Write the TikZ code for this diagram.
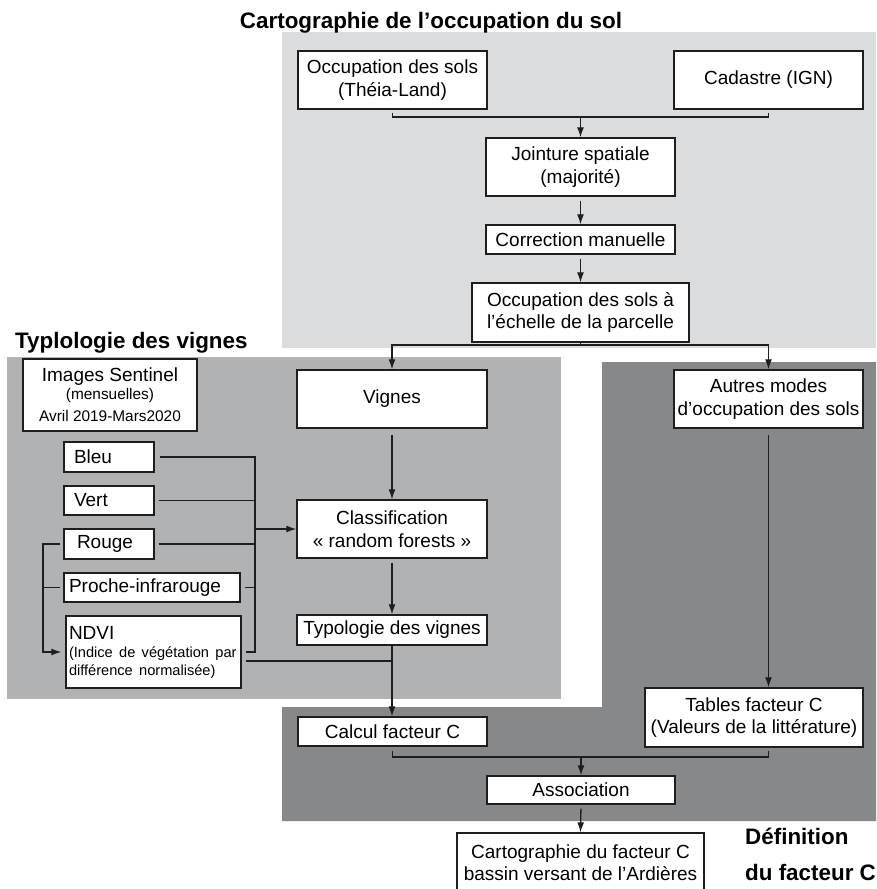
\documentclass[tikz,border=0pt]{standalone}
\usepackage{fontspec}
\setmainfont{Liberation Sans}
\usetikzlibrary{arrows.meta}
\definecolor{PanelLight}{HTML}{DBDCDE}
\definecolor{PanelMid}{HTML}{B1B2B4}
\definecolor{PanelDark}{HTML}{87888A}
\definecolor{Ink}{HTML}{1E1E1E}
\newcommand\subfont{\fontsize{15.4}{18}\selectfont}
\newcommand\notefont{\fontsize{14.6}{18}\selectfont}

\begin{document}
\begin{tikzpicture}[x=1pt,y=-1pt,
  box/.style={draw=Ink,fill=white,line width=1.4pt,inner sep=2pt,align=center,
    font=\fontsize{19}{22.5}\selectfont},
  band/.style={box,align=left,inner xsep=4pt},
  title/.style={font=\fontsize{22.4}{36}\selectfont\bfseries,inner sep=0pt},
  link/.style={draw=Ink,line width=1.3pt},
  arr/.style={link,-{Latex[length=10pt,width=7pt]}}]
\path[use as bounding box] (0,0) rectangle (876,889);
\fill[PanelLight] (282,32) rectangle (876,348);
\fill[PanelMid] (7,357) rectangle (561,699);
\fill[PanelDark] (602,362) -- (876,362) -- (876,821) -- (282,821) -- (282,707) -- (602,707) -- cycle;
\node[title,anchor=base] (tsol) at (431,28) {Cartographie de l’occupation du sol};
\node[title,anchor=base west] (tvig) at (15,348) {Typlologie des vignes};
\node[title,anchor=west,align=left] (tfac) at (745,854) {Définition\\du facteur C};
\node[box,minimum width=189pt,minimum height=58pt] (occ) at (392.5,80) {Occupation des sols\\(Théia-Land)};
\node[box,minimum width=189pt,minimum height=58pt] (cad) at (768.5,80) {Cadastre (IGN)};
\node[box,minimum width=189pt,minimum height=58pt] (joint) at (580.5,167) {Jointure spatiale\\(majorité)};
\node[box,minimum width=189pt,minimum height=29pt] (corr) at (580.5,239.5) {Correction manuelle};
\node[box,minimum width=217pt,minimum height=59pt] (parc) at (580.5,312.5) {Occupation des sols à\\l’échelle de la parcelle};
\node[box,minimum width=190pt,minimum height=58pt] (vig) at (392,399) {Vignes};
\node[box,minimum width=189pt,minimum height=58pt] (autres) at (768.5,399) {Autres modes\\d’occupation des sols};
\node[box,minimum width=174pt,minimum height=72pt] (sent) at (110,395) {Images Sentinel\\[-5pt]{\subfont(mensuelles)}\\{\subfont Avril 2019-Mars2020}};
\node[band,text width=70pt,inner xsep=10pt,minimum height=30pt] (bleu) at (109,457) {Bleu};
\node[band,text width=70pt,inner xsep=10pt,minimum height=29pt] (vert) at (109,500.5) {Vert};
\node[band,text width=64pt,inner xsep=13pt,minimum height=30pt] (rouge) at (109,544) {Rouge};
\node[band,text width=166pt,inner xsep=5pt,minimum height=29pt] (proche) at (152,587.5) {Proche-infrarouge};
\node[band,text width=169pt,inner xsep=3pt,minimum height=72pt] (ndvi) at (153.5,652) {NDVI\\[-4.5pt]{\notefont(Indice de végétation par}\\[-4.5pt]{\notefont différence normalisée)}};
\node[box,minimum width=190pt,minimum height=58pt] (classif) at (392,529) {Classification\\« random forests »};
\node[box,minimum width=190pt,minimum height=30pt] (typo) at (392,630) {Typologie des vignes};
\node[box,minimum width=189pt,minimum height=29pt] (calc) at (392.5,731.5) {Calcul facteur C};
\node[box,minimum width=218pt,minimum height=59pt] (tables) at (754,717.5) {Tables facteur C\\(Valeurs de la littérature)};
\node[box,minimum width=188pt,minimum height=28pt] (assoc) at (581,790) {Association};
\node[box,minimum width=247pt,minimum height=59pt] (carto) at (580.5,862.5) {Cartographie du facteur C\\bassin versant de l’Ardières};
\coordinate (jsol) at (580.5,117);
\coordinate (jparc) at (580.5,345);
\coordinate (bustop) at (255,457);
\coordinate (busbot) at (255,652);
\coordinate (lbrk) at (43,544);
\coordinate (ndjoin) at (392,661);
\coordinate (jfac) at (581,757);
\draw[link,shorten <=3pt] (occ.south) |- (jsol);
\draw[link,shorten <=3pt] (cad.south) |- (jsol);
\draw[arr] (jsol) -- (joint.north);
\draw[arr,shorten <=4pt] (joint.south) -- (corr.north);
\draw[arr,shorten <=4pt] (corr.south) -- (parc.north);
\draw[link] (parc.south) -- (jparc);
\draw[arr] (jparc) -| (vig.north);
\draw[arr] (jparc) -| (autres.north);
\draw[arr,shorten <=6pt] (vig.south) -- (classif.north);
\draw[arr,shorten <=4pt] (classif.south) -- (typo.north);
\draw[arr] (typo.south) -- (typo.south |- calc.north);
\draw[link,shorten <=5pt,shorten >=4pt] (bleu.east) -- (bustop) -- (busbot) -- (ndvi.east);
\draw[link,shorten <=4pt] (vert.east) -- (vert.east -| bustop);
\draw[link,shorten <=4pt] (rouge.east) -- (rouge.east -| bustop);
\draw[link,shorten <=4pt] (proche.east) -- (proche.east -| bustop);
\draw[arr] (bustop |- classif.west) -- (classif.west);
\draw[arr,shorten <=3pt,shorten >=4pt] (rouge.west) -- (lbrk) |- (ndvi.west);
\draw[link,shorten <=3pt] (proche.west) -- (proche.west -| lbrk);
\draw[link,shorten <=4pt] ([yshift=-9pt]ndvi.east) -- (ndjoin);
\draw[arr,shorten <=6pt] (autres.south) -- (autres.south |- tables.north);
\draw[link,shorten <=4pt] (calc.south) |- (jfac);
\draw[link,shorten <=3pt] (tables.south -| autres.south) |- (jfac);
\draw[arr] (jfac) -- (assoc.north);
\draw[arr,shorten <=4pt] (assoc.south) -- (carto.north);
\end{tikzpicture}
\end{document}
